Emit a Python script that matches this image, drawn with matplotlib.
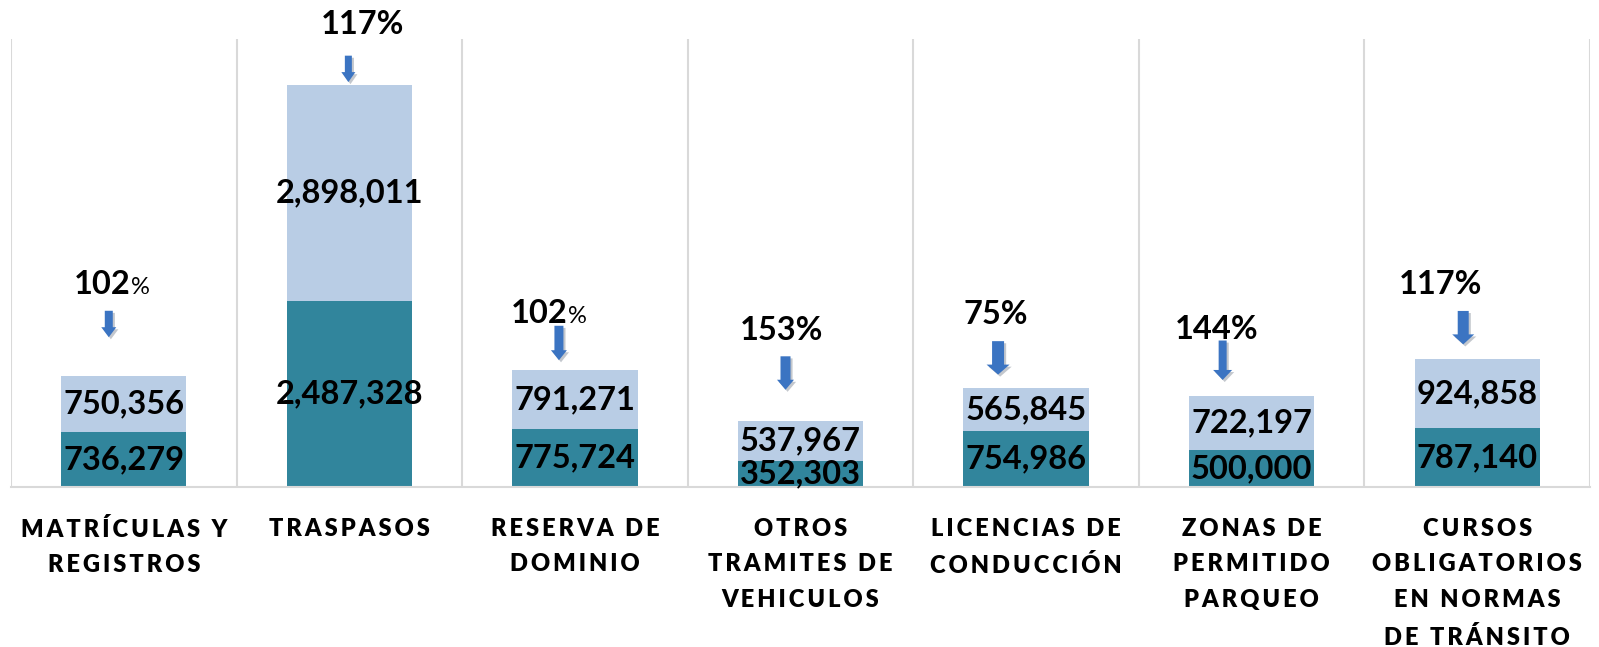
import matplotlib
matplotlib.use("Agg")
import matplotlib.pyplot as plt
import matplotlib.patheffects as pe
from matplotlib.patches import FancyArrowPatch
import numpy as np

plt.rcParams["font.family"] = ["Lato", "DejaVu Sans"]

CATEGORIES = [
    "MATRÍCULAS Y\nREGISTROS",
    "TRASPASOS",
    "RESERVA DE\nDOMINIO",
    "OTROS\nTRAMITES DE\nVEHICULOS",
    "LICENCIAS DE\nCONDUCCIÓN",
    "ZONAS DE\nPERMITIDO\nPARQUEO",
    "CURSOS\nOBLIGATORIOS\nEN NORMAS\nDE TRÁNSITO",
]
BOTTOM_VALUES = [736279, 2487328, 775724, 352303, 754986, 500000, 787140]
TOP_VALUES = [750356, 2898011, 791271, 537967, 565845, 722197, 924858]
PCT_LABELS = ["102", "117", "102", "153", "75", "144", "117"]
SMALL_PCT = [True, False, True, False, False, False, False]

DARK = "#31859c"
LIGHT = "#b9cde5"
GRID = "#d9d9d9"
ARROW = "#3b74c2"

# label / arrow placement, in pixels relative to the top centre of each bar
PCT_POS = [(7, 82), (13, 51), (-7, 47), (-19, 81), (-30, 64), (-35, 57), (-37, 65)]
ARROW_POS = [  # dx, tail dy, tip dy, shaft px, head px
    (-15, 68, 36, 8, 15),
    (-1, 32, 0, 7, 14),
    (-16, 47, 7, 9, 16),
    (-15, 67, 28, 10, 17),
    (-28, 50, 11, 12, 23),
    (-29, 58, 13, 8, 19),
    (-14, 51, 12, 11, 22),
]


def spaced(label):
    # fake letter spacing with thin spaces
    return "\n".join("\u2009".join(line) for line in label.split("\n"))


fig = plt.figure(figsize=(15.99, 6.47), dpi=100)
ax = fig.add_axes([11 / 1599, 1 - 487 / 647, 1579 / 1599, 448 / 647])

x = np.arange(len(CATEGORIES))
totals = np.array(BOTTOM_VALUES) + np.array(TOP_VALUES)
b1 = ax.bar(x, BOTTOM_VALUES, 0.555, color=DARK, zorder=2)
b2 = ax.bar(x, TOP_VALUES, 0.555, bottom=BOTTOM_VALUES, color=LIGHT, zorder=2)

ax.bar_label(b1, labels=[f"{v:,}" for v in BOTTOM_VALUES], label_type="center",
             fontsize=23.5, fontweight="bold", zorder=5)
ax.bar_label(b2, labels=[f"{v:,}" for v in TOP_VALUES], label_type="center",
             fontsize=23.5, fontweight="bold", zorder=5)

ax.set_xlim(-0.5, len(CATEGORIES) - 0.5)
ax.set_ylim(0, 6000000)

px2pt = 72 / fig.dpi
for i in range(len(CATEGORIES)):
    base = ax.transData.transform((x[i], totals[i]))
    dx, ty, hy, sw, hw = ARROW_POS[i]
    arr = FancyArrowPatch(
        (base[0] + dx, base[1] + ty), (base[0] + dx, base[1] + hy), transform=None,
        arrowstyle=f"simple,head_width={hw * px2pt},head_length={10 * px2pt},tail_width={sw * px2pt}",
        mutation_scale=1, color=ARROW, lw=0, zorder=6)
    arr.set_path_effects([pe.SimplePatchShadow(offset=(1.5, -1.5), alpha=0.25), pe.Normal()])
    fig.add_artist(arr)

    pdx, pdy = PCT_POS[i]
    if SMALL_PCT[i]:
        ax.annotate(PCT_LABELS[i], xy=(x[i], totals[i]), xytext=(pdx, pdy),
                    textcoords="offset pixels", ha="right", va="baseline",
                    fontsize=23.5, fontweight="bold", annotation_clip=False)
        ax.annotate("%", xy=(x[i], totals[i]), xytext=(pdx, pdy),
                    textcoords="offset pixels", ha="left", va="baseline",
                    fontsize=17, annotation_clip=False)
    else:
        ax.annotate(PCT_LABELS[i] + "%", xy=(x[i], totals[i]), xytext=(pdx, pdy),
                    textcoords="offset pixels", ha="center", va="baseline",
                    fontsize=23.5, fontweight="bold", annotation_clip=False)

ax.set_yticks([])
ax.set_xticks(x)
ax.set_xticklabels([spaced(c) for c in CATEGORIES], fontsize=17, fontweight="heavy",
                   linespacing=1.77, va="top")
ax.tick_params(axis="x", length=0, pad=22)
ax.set_xticks(np.arange(-0.5, len(CATEGORIES), 1), minor=True)
ax.tick_params(axis="x", which="minor", length=0)
ax.grid(axis="x", which="minor", color=GRID, lw=1.5, zorder=0)
for s in ["top", "left", "right"]:
    ax.spines[s].set_visible(False)
ax.spines["bottom"].set_color(GRID)
ax.spines["bottom"].set_linewidth(1.5)

fig.savefig("out.png", dpi=100)
